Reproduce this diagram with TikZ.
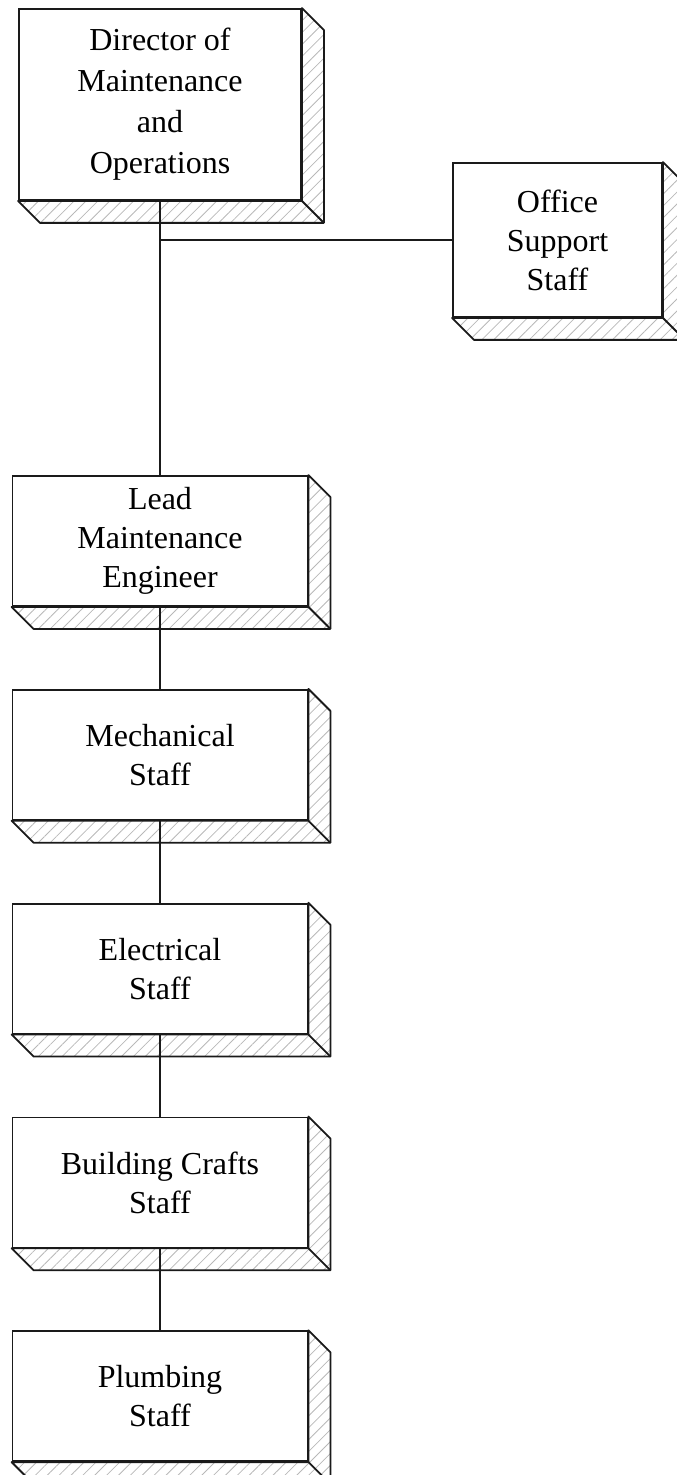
\documentclass[tikz,border=0pt]{standalone}
\usepackage{fontspec}
\setmainfont{Liberation Serif}
\usetikzlibrary{positioning,calc,patterns.meta}
\definecolor{Ink}{HTML}{1A1A1A}
\definecolor{Hatch}{HTML}{B8B8B8}

\begin{document}
\begin{tikzpicture}[
  x=0.5pt, y=-0.5pt,
  node distance=41pt,
  unit/.style={draw=Ink, line width=0.9pt, fill=white, align=center, inner sep=0pt,
    font={\fontsize{16}{19.5}\selectfont}, minimum width=147.5pt, minimum height=65pt},
  side/.style={draw=Ink, line width=0.9pt, line join=round,
    pattern={Lines[angle=45,distance=4.2pt,line width=0.4pt]}, pattern color=Hatch},
  link/.style={Ink, line width=0.9pt}
]
\useasboundingbox (0,0) rectangle (676,1475);

\node[unit, minimum width=141pt, minimum height=95.5pt, font={\fontsize{16}{20.5}\selectfont}]
  (dir) at (160,104.5) {Director of\\Maintenance\\and\\Operations};
\node[unit, minimum width=104.5pt, minimum height=77pt] (office) at (557.5,240) {Office\\Support\\Staff};
\node[unit] (lead) at (160,541) {Lead\\Maintenance\\Engineer};
\node[unit, below=of lead] (mech) {Mechanical\\Staff};
\node[unit, below=of mech] (elec) {Electrical\\Staff};
\node[unit, below=of elec] (build) {Building Crafts\\Staff};
\node[unit, below=of build] (plumb) {Plumbing\\Staff};

\foreach \n in {dir,office,lead,mech,elec,build,plumb}{
  \draw[side] (\n.north east) -- ($(\n.north east)+(11pt,-11pt)$) -- ($(\n.south east)+(11pt,-11pt)$)
    -- ($(\n.south west)+(11pt,-11pt)$) -- (\n.south west) -- (\n.south east) -- cycle;
  \draw[link] (\n.south east) -- ++(11pt,-11pt);
}

\draw[link] (dir.south) -- (lead.north);
\draw[link] (office.west) -- (office.west -| dir.south);
\foreach \a/\b in {lead/mech,mech/elec,elec/build,build/plumb}
  \draw[link] (\a) -- (\b);
\end{tikzpicture}
\end{document}
